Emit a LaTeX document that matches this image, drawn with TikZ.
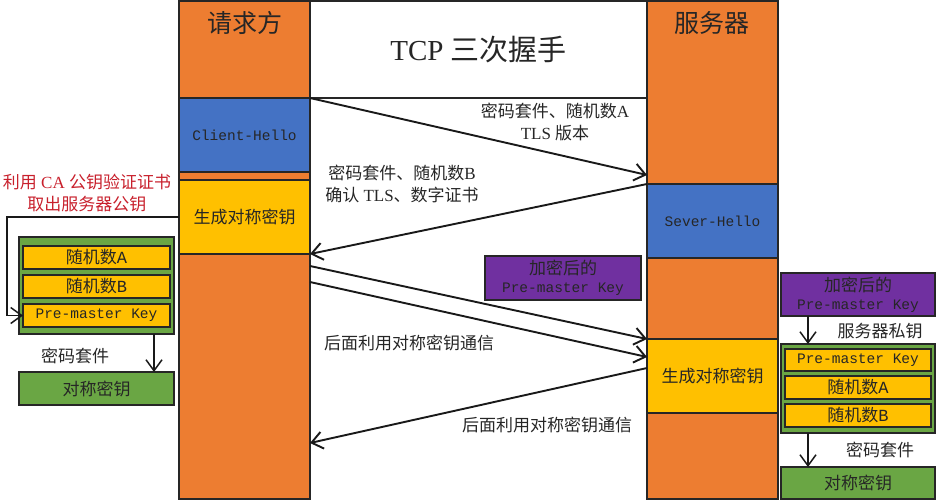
\documentclass[tikz,border=0pt]{standalone}
\usepackage{fontspec}
\setmainfont{Liberation Serif}
\setmonofont{Liberation Mono}
\newfontfamily\cjk{Noto Sans CJK SC}
\usetikzlibrary{arrows.meta}
\definecolor{cOrange}{HTML}{ED7D31}
\definecolor{cBlue}{HTML}{4472C4}
\definecolor{cYellow}{HTML}{FFC000}
\definecolor{cGreen}{HTML}{6AA644}
\definecolor{cPurple}{HTML}{7030A0}
\definecolor{cRed}{HTML}{C8202C}
\tikzset{
  blk/.style={draw=black!85,line width=1.3pt,inner sep=0pt,outer sep=0pt,align=center,text=black!85,
    font=\fontsize{17}{22}\selectfont},
  txt/.style={inner sep=0pt,align=center,text=black!85,font=\fontsize{17}{22}\selectfont},
  msg/.style={-{Straight Barb[length=11pt,width=17pt]},line width=1.9pt,black!90},
  sub/.style={-{Straight Barb[length=11pt,width=16pt]},line width=1.5pt,black!90},
}
\begin{document}
\begin{tikzpicture}[x=1pt,y=-1pt]
\useasboundingbox (0,0) rectangle (937,500);

% 方块
\foreach \name/\xa/\ya/\xb/\yb/\col/\label in {
  hdrL/179/1/310/98/cOrange/{},
  cliHello/179/98/310/172/cBlue/{\ttfamily\fontsize{14.5}{18}\selectfont Client-Hello},
  gapL/179/172/310/180/cOrange/{},
  keyL/179/180/310/254/cYellow/{\cjk 生成对称密钥},
  tailL/179/254/310/499/cOrange/{},
  hdrR/647/1/778/184/cOrange/{},
  sevHello/647/184/778/258/cBlue/{\ttfamily\fontsize{14.5}{18}\selectfont Sever-Hello},
  gapR/647/258/778/339/cOrange/{},
  keyR/647/339/778/413/cYellow/{\cjk 生成对称密钥},
  tailR/647/413/778/499/cOrange/{},
  title/310/1/647/98/white/{\fontsize{29}{32}\selectfont TCP {\cjk 三次握手}},
  encMid/485/256/641/300/cPurple/{{\cjk 加密后的}\\[-4pt]\ttfamily\fontsize{14.5}{18}\selectfont Pre-master Key},
  encR/781/273/935/316/cPurple/{{\cjk 加密后的}\\[-4pt]\ttfamily\fontsize{14.5}{18}\selectfont Pre-master Key},
  grpL/19/237/174/334/cGreen/{},
  randAL/23/246/170/269/cYellow/{{\cjk 随机数}\ttfamily A},
  randBL/23/275/170/298/cYellow/{{\cjk 随机数}\ttfamily B},
  preL/23/304/170/327/cYellow/{\ttfamily\fontsize{14.5}{18}\selectfont Pre-master Key},
  symL/19/372/174/405/cGreen/{\cjk 对称密钥},
  grpR/781/344/935/433/cGreen/{},
  preR/785/349/931/371/cYellow/{\ttfamily\fontsize{14.5}{18}\selectfont Pre-master Key},
  randAR/785/376/931/399/cYellow/{{\cjk 随机数}\ttfamily A},
  randBR/785/404/931/427/cYellow/{{\cjk 随机数}\ttfamily B},
  symR/781/467/935/499/cGreen/{\cjk 对称密钥}} {
  \node[blk,fill=\col,minimum width={(\xb-\xa)*1pt},minimum height={(\yb-\ya)*1pt}]
    (\name) at ({(\xa+\xb)/2},{(\ya+\yb)/2}) {\label};
}

% 文字
\node[txt,font=\fontsize{25}{28}\selectfont\cjk] (reqT) at (245,23) {请求方};
\node[txt,font=\fontsize{25}{28}\selectfont\cjk] (srvT) at (712,23) {服务器};
\node[txt] (m1) at (555,122) {{\cjk 密码套件、随机数}A\\TLS {\cjk 版本}};
\node[txt] (m2) at (402,184) {{\cjk 密码套件、随机数}B\\{\cjk 确认} TLS{\cjk 、数字证书}};
\node[txt,font=\fontsize{17}{22}\selectfont\cjk] (m3) at (409,343) {后面利用对称密钥通信};
\node[txt,font=\fontsize{17}{22}\selectfont\cjk] (m4) at (547,425) {后面利用对称密钥通信};
\node[txt,text=cRed] (caT) at (87,193) {{\cjk 利用} CA {\cjk 公钥验证证书}\\{\cjk 取出服务器公钥}};
\node[txt,font=\fontsize{17}{22}\selectfont\cjk] (suiteL) at (75,356) {密码套件};
\node[txt,font=\fontsize{17}{22}\selectfont\cjk] (privR) at (880,331) {服务器私钥};
\node[txt,font=\fontsize{17}{22}\selectfont\cjk] (suiteR) at (880,450) {密码套件};

% 连线
\coordinate (e1) at (647,175);
\coordinate (s3) at (310,266);
\coordinate (s4) at (310,282);
\coordinate (e4) at (647,357);
\coordinate (s5) at (647,368);
\coordinate (e5) at (310,443);
\coordinate (bend) at (7,217);
\coordinate (downL) at (154,350);
\coordinate (downR) at (808,440);
\draw[msg] (cliHello.north east) -- (e1);
\draw[msg] (sevHello.north west) -- (keyL.south east);
\draw[msg] (s3) -- (keyR.north west);
\draw[msg] (s4) -- (e4);
\draw[msg] (s5) -- (e5);
\draw[sub] (keyL.west) -- (bend) |- (preL.west);
\draw[sub] (grpL.south -| downL) -- (symL.north -| downL);
\draw[sub] (encR.south -| downR) -- (grpR.north -| downR);
\draw[sub] (grpR.south -| downR) -- (symR.north -| downR);
\end{tikzpicture}
\end{document}
